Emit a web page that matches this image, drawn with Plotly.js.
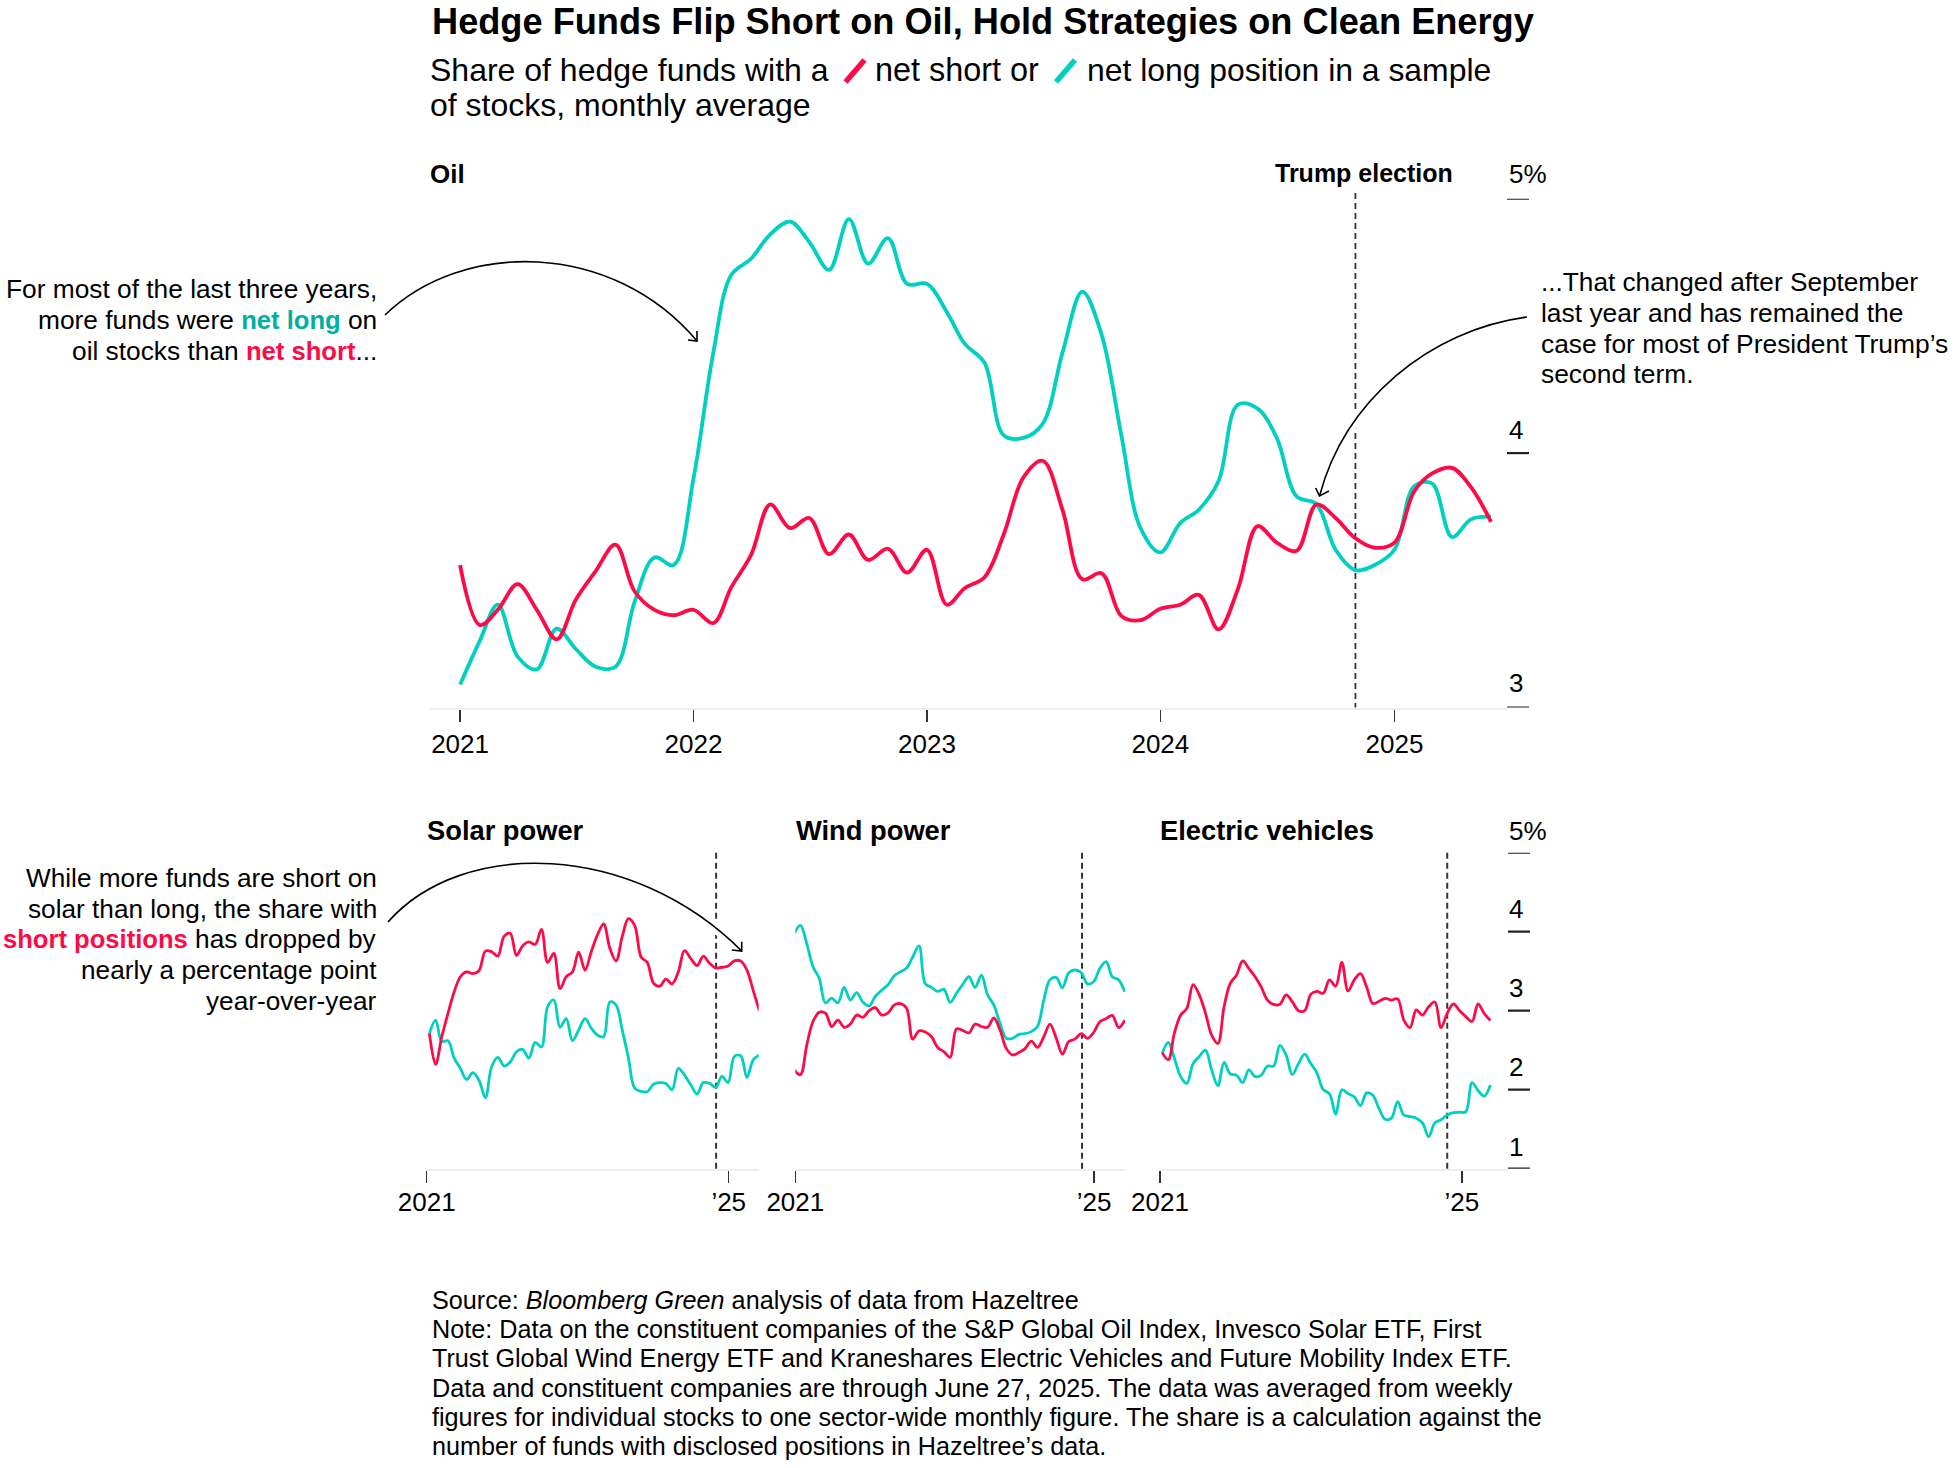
<!DOCTYPE html>
<html>
<head>
<meta charset="utf-8">
<script src="https://cdn.plot.ly/plotly-3.0.1.min.js"></script>
<style>html,body{margin:0;padding:0;background:#fff}</style>
</head>
<body>
<div id="chart" style="width:1959px;height:1468px"></div>
<script>
const oilLong = [3.09,3.263,3.404,3.20,3.15,3.31,3.23,3.16,3.16,3.416,3.59,3.56,3.90,4.395,4.70,4.764,4.86,4.91,4.83,4.72,4.92,4.745,4.845,4.665,4.665,4.555,4.43,4.355,4.07,4.06,4.115,4.395,4.635,4.467,4.07,3.705,3.61,3.725,3.777,3.89,4.19,4.175,4.06,3.83,3.80,3.62,3.54,3.56,3.62,3.87,3.88,3.67,3.74,3.75];
const oilShort = [3.56,3.324,3.384,3.485,3.384,3.268,3.424,3.536,3.64,3.456,3.384,3.363,3.384,3.332,3.472,3.60,3.798,3.705,3.745,3.603,3.68,3.58,3.624,3.53,3.62,3.404,3.469,3.512,3.68,3.905,3.97,3.777,3.504,3.528,3.36,3.343,3.388,3.404,3.443,3.307,3.464,3.713,3.648,3.616,3.798,3.745,3.665,3.628,3.648,3.85,3.92,3.942,3.865,3.73];
const solarLong = [2.71,2.88,2.61,2.62,2.40,2.27,2.13,2.215,2.12,1.90,2.29,2.41,2.30,2.35,2.48,2.51,2.40,2.60,2.54,3.05,3.135,2.79,2.90,2.62,2.755,2.90,2.78,2.69,2.67,3.11,3.07,2.755,2.40,2.02,1.98,1.975,2.07,2.09,2.08,2.00,2.27,2.185,2.06,1.945,2.09,2.08,2.03,2.17,2.09,2.42,2.43,2.155,2.375,2.44];
const solarShort = [2.713,2.32,2.67,2.966,3.24,3.43,3.49,3.47,3.506,3.755,3.747,3.69,3.94,3.98,3.70,3.82,3.87,3.84,4.03,3.61,3.725,3.28,3.43,3.49,3.74,3.515,3.747,3.96,4.10,3.79,3.63,3.94,4.165,4.08,3.68,3.61,3.35,3.31,3.40,3.34,3.49,3.76,3.66,3.57,3.69,3.60,3.54,3.55,3.565,3.63,3.63,3.515,3.26,3.0];
const windLong = [3.98,4.08,3.85,3.56,3.41,3.10,3.16,3.10,3.295,3.135,3.23,3.11,3.06,3.18,3.26,3.325,3.44,3.49,3.54,3.68,3.82,3.345,3.295,3.245,3.27,3.105,3.22,3.33,3.43,3.295,3.45,3.20,3.07,2.84,2.65,2.65,2.70,2.71,2.735,2.80,3.135,3.39,3.42,3.29,3.48,3.515,3.48,3.34,3.37,3.535,3.62,3.43,3.39,3.24];
const windShort = [2.25,2.19,2.565,2.86,2.98,2.97,2.80,2.88,2.79,2.83,2.945,2.915,3.0,3.04,2.945,2.97,3.07,3.09,3.03,2.64,2.745,2.73,2.67,2.535,2.48,2.41,2.77,2.75,2.72,2.83,2.80,2.79,2.91,2.755,2.52,2.44,2.47,2.52,2.615,2.535,2.67,2.83,2.65,2.45,2.61,2.64,2.71,2.65,2.725,2.86,2.90,2.94,2.785,2.88];
const evLong = [2.46,2.60,2.395,2.165,2.08,2.33,2.42,2.50,2.25,2.05,2.345,2.20,2.185,2.09,2.25,2.165,2.185,2.30,2.30,2.56,2.44,2.19,2.33,2.45,2.33,2.21,2.00,1.95,1.69,2.0,1.95,1.91,1.80,1.96,1.93,1.76,1.625,1.64,1.85,1.68,1.66,1.64,1.58,1.405,1.58,1.62,1.68,1.71,1.715,1.72,2.09,1.99,1.92,2.06];
const evShort = [2.47,2.38,2.72,2.945,3.03,3.33,3.20,2.97,2.69,2.585,3.05,3.345,3.45,3.63,3.535,3.43,3.30,3.135,3.08,3.08,3.20,3.115,3.0,3.0,3.21,3.245,3.22,3.39,3.31,3.61,3.25,3.39,3.47,3.30,3.09,3.12,3.155,3.135,3.15,2.88,2.785,3.01,2.945,3.05,3.11,2.785,2.97,3.085,3.0,2.925,2.865,3.085,2.965,2.875];

const oilYearTicks = ['2021-01-01','2022-01-01','2023-01-01','2024-01-01','2025-01-01'];
const oilYearLabels = ['2021','2022','2023','2024','2025'];
const smallTicks = ['2021-01-01','2025-01-01'];
const smallLabels = ['2021','\u201925'];
const oilYTicks = [3,4,5];
const oilYLabels = ['3','4','5%'];
const smallYTicks = [1,2,3,4,5];
const smallYLabels = ['1','2','3','4','5%'];

const RED = '#FF0A47', TEAL = '#00D0C0', RED_TXT = '#FF0A47', TEAL_TXT = '#00AFA2', INK = '#000000', FONT = '"Liberation Sans", Arial, sans-serif';
const W = 1959, H = 1468;
const fx = x => x / W, fy = y => 1 - y / H;

function monthly() {
  const out = [];
  for (let i = 0; i < 54; i++) {
    const y = 2021 + Math.floor(i / 12), m = i % 12 + 1;
    out.push(y + '-' + String(m).padStart(2, '0') + '-01');
  }
  return out;
}
function stepped(start, days) {
  const t0 = Date.parse(start + 'T00:00:00Z'), out = [];
  for (let i = 0; i < 54; i++) out.push(new Date(t0 + i * days * 86400000).toISOString().slice(0, 10));
  return out;
}

const panels = [
  {key:'', x:monthly(), long:oilLong, short:oilShort, width:3.8, px:[430,1507], py:[198.7,707.5], range:['2020-11-15','2025-06-26'], yr:[3,5], tv:oilYearTicks, tt:oilYearLabels, fs:26, standoff:0, ticklen:12},
  {key:'2', x:stepped('2021-01-14',30.12), long:solarLong, short:solarShort, width:2.8, px:[426.7,758.7], py:[852.7,1168.7], range:['2021-01-01','2025-05-26'], yr:[1,5], tv:smallTicks, tt:smallLabels, fs:26, standoff:-3, ticklen:12},
  {key:'3', x:stepped('2020-12-27',30.5), long:windLong, short:windShort, width:2.8, px:[795.3,1125], py:[852.7,1168.7], range:['2021-01-01','2025-06-01'], yr:[1,5], tv:smallTicks, tt:smallLabels, fs:26, standoff:-3, ticklen:12},
  {key:'4', x:stepped('2021-01-12',29.98), long:evLong, short:evShort, width:2.8, px:[1160,1508], py:[852.7,1168.7], range:['2021-01-01','2025-08-12'], yr:[1,5], tv:smallTicks, tt:smallLabels, fs:26, standoff:-3, ticklen:12}
];
const electionDates = ['2024-11-01','2024-11-01','2024-11-03','2024-10-22'];

const traces = [];
const layout = {
  width: W, height: H, autosize: false, showlegend: false,
  margin: {l:0, r:0, t:0, b:0, pad:0},
  paper_bgcolor: '#fff', plot_bgcolor: 'rgba(0,0,0,0)',
  font: {family: FONT, color: INK, size: 26},
  hovermode: false, shapes: [], annotations: []
};

panels.forEach((p, idx) => {
  traces.push({x:p.x, y:p.long, xaxis:'x'+p.key, yaxis:'y'+p.key, mode:'lines', cliponaxis:false, name:'Net long', line:{color:TEAL, width:p.width, shape:'spline', smoothing:1}});
  traces.push({x:p.x, y:p.short, xaxis:'x'+p.key, yaxis:'y'+p.key, mode:'lines', cliponaxis:false, name:'Net short', line:{color:RED, width:p.width, shape:'spline', smoothing:1}});
  layout['xaxis'+p.key] = {
    type:'date', domain:[fx(p.px[0]), fx(p.px[1])], range:p.range, anchor:'y'+p.key,
    tickmode:'array', tickvals:p.tv, ticktext:p.tt, ticks:'outside', ticklen:p.ticklen, tickwidth:1.5, tickcolor:'#333',
    ticklabelstandoff:p.standoff, tickfont:{size:p.fs, color:INK, family:FONT},
    showline:true, linecolor:'#eeeeee', linewidth:2, showgrid:false, zeroline:false, fixedrange:true
  };
  layout['yaxis'+p.key] = {
    domain:[fy(p.py[1]), fy(p.py[0])], range:p.yr, anchor:'x'+p.key, showticklabels:false, ticks:'',
    showgrid:false, zeroline:false, showline:false, fixedrange:true
  };
  // election marker (below the traces)
  layout.shapes.push({type:'line', layer:'below', xref:'x'+p.key, yref:'paper', x0:electionDates[idx], x1:electionDates[idx],
    y0:fy(idx===0?193:852.7), y1:fy(p.py[1]), line:{color:'#333', width:idx===0?1.8:2, dash:'6px,4px'}});
});

// y ticks and labels
function yTicks(ref, vals, labels, x0, x1, shifts, lx) {
  vals.forEach((v, i) => {
    layout.shapes.push({type:'line', layer:'above', xref:'paper', yref:ref, x0:fx(x0), x1:fx(x1), y0:v, y1:v, line:{color:'#222', width:2.2}});
    layout.annotations.push({xref:'paper', yref:ref, x:fx(lx), y:v, yshift:shifts[i], xanchor:'left', yanchor:'middle', showarrow:false, text:labels[i], font:{size:26, color:INK}, borderpad:0});
  });
}
yTicks('y', oilYTicks, oilYLabels, 1507, 1529, [25,23,25], 1508);
yTicks('y4', smallYTicks, smallYLabels, 1508, 1530, [22,22.5,22.5,22.5,22], 1508);

function txt(text, x, y, size, anchor, extra) {
  layout.annotations.push(Object.assign({xref:'paper', yref:'paper', x:fx(x), y:fy(y), xanchor:anchor||'left', yanchor:'middle', showarrow:false, align:anchor||'left', text, borderpad:0, font:{size, color:INK, family:FONT}}, extra||{}));
}
txt('<b>Hedge Funds Flip Short on Oil, Hold Strategies on Clean Energy</b>', 431, 21.5, 36.2);
txt('Share of hedge funds with a', 428.5, 70, 32);
txt('net short or', 874, 70, 32.4);
txt('net long position in a sample', 1086, 70, 31.9);
txt('of stocks, monthly average', 428.5, 105, 32);
txt('<b>Oil</b>', 428.5, 174, 26);
txt('<b>Trump election</b>', 1274, 173, 25);
txt('<b>Solar power</b>', 425.5, 830, 27.3);
txt('<b>Wind power</b>', 794.5, 830, 27.3);
txt('<b>Electric vehicles</b>', 1159, 830, 27.3);

const teal = s => '<span style="color:'+TEAL_TXT+';font-size:25.6px"><b>'+s+'</b></span>';
const red = s => '<span style="color:'+RED_TXT+';font-size:25.6px"><b>'+s+'</b></span>';
txt('For most of the last three years,', 378, 289, 26.3, 'right');
txt('more funds were '+teal('net long')+' on', 378, 320, 26.3, 'right');
txt('oil stocks than '+red('net short')+'...', 378, 351, 26.3, 'right');
txt('...That changed after September', 1539.5, 282, 26.2);
txt('last year and has remained the', 1539.5, 313, 26.4);
txt('case for most of President Trump\u2019s', 1539.5, 344, 26.4);
txt('second term.', 1539.5, 374, 26.4);
txt('While more funds are short on', 378, 877.5, 26.2, 'right');
txt('solar than long, the share with', 378, 908.5, 26.2, 'right');
txt(red('short positions')+' has dropped by', 378, 939, 26.2, 'right');
txt('nearly a percentage point', 378, 970, 26.2, 'right');
txt('year-over-year', 378, 1000.5, 26.2, 'right');

const notes = [
  'Source: <i>Bloomberg Green</i> analysis of data from Hazeltree',
  'Note: Data on the constituent companies of the S&P Global Oil Index, Invesco Solar ETF, First',
  'Trust Global Wind Energy ETF and Kraneshares Electric Vehicles and Future Mobility Index ETF.',
  'Data and constituent companies are through June 27, 2025. The data was averaged from weekly',
  'figures for individual stocks to one sector-wide monthly figure. The share is a calculation against the',
  'number of funds with disclosed positions in Hazeltree\u2019s data.'
];
notes.forEach((n, i) => txt(n, 431, 1300 + i * 29.2, 25.2));

// legend slashes in the subtitle
function slash(color, x0, y0, x1, y1) {
  layout.shapes.push({type:'line', layer:'above', xref:'paper', yref:'paper', x0:fx(x0), y0:fy(y0), x1:fx(x1), y1:fy(y1), line:{color, width:5.5}});
}
slash(RED, 845.5, 82, 864.5, 60);
slash(TEAL, 1056, 82, 1075, 60);

// curved annotation arrows
function pathOf(points) {
  const p = points.map(q => fx(q[0]).toFixed(5) + ',' + fy(q[1]).toFixed(5));
  return 'M' + p[0] + ' C' + p[1] + ' ' + p[2] + ' ' + p[3];
}
function headOf(points) {
  const p = points.map(q => fx(q[0]).toFixed(5) + ',' + fy(q[1]).toFixed(5));
  return 'M' + p[0] + ' L' + p[1] + ' L' + p[2];
}
function arrow(curve, head) {
  layout.shapes.push({type:'path', layer:'below', xref:'paper', yref:'paper', path:pathOf(curve), line:{color:'#ffffff', width:11}});
  layout.shapes.push({type:'path', layer:'above', xref:'paper', yref:'paper', path:pathOf(curve), line:{color:'#000', width:1.6}});
  layout.shapes.push({type:'path', layer:'above', xref:'paper', yref:'paper', path:headOf(head), line:{color:'#000', width:1.6}});
}
arrow([[385,315],[462,240],[612,240],[697,341]], [[688,340],[697,341],[697,331]]);
arrow([[1527,317],[1430,330],[1345,400],[1319.5,496]], [[1315.7,488],[1319.5,496],[1329,491]]);
arrow([[388,922],[462,838],[632,841],[741.7,951]], [[731.7,950],[741.7,951],[741.7,941.7]]);

Plotly.newPlot('chart', traces, layout, {displayModeBar:false, staticPlot:true});
</script>
</body>
</html>
